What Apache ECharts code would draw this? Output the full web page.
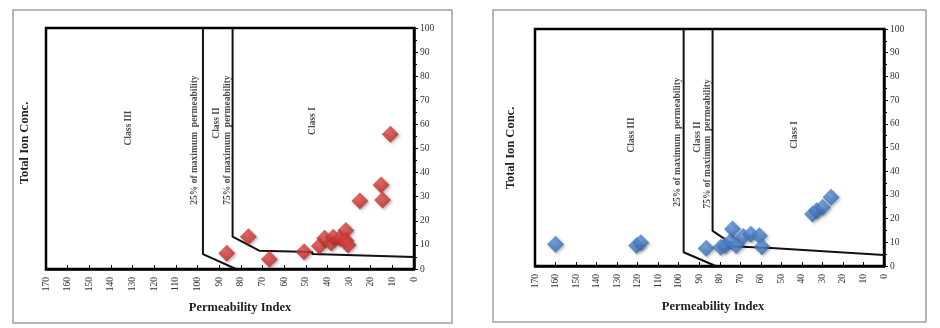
<!DOCTYPE html>
<html>
<head>
<meta charset="utf-8">
<script src="https://cdn.jsdelivr.net/npm/echarts@6/dist/echarts.min.js"></script>
<style>
    html, body { margin: 0; padding: 0; background: #fff; }
    #main { width: 940px; height: 328px; }
</style>
</head>
<body>
<div id="main"></div>
<script>
// permeability index (x) / total ion conc. (y)
var pointsA = [[86.5, 6.5], [76.5, 13.4], [66.8, 4.0], [50.8, 7.2], [43.7, 9.5], [41.3, 12.8], [38.2, 10.8],
    [37.3, 13.2], [34.2, 12.8], [31.5, 16.0], [31.5, 11.8], [30.5, 10.0], [25.0, 28.2], [15.2, 34.9],
    [14.5, 28.6], [10.9, 55.9]];
var pointsB = [[160, 9.2], [120.5, 8.6], [118.5, 9.8], [86.6, 7.5], [79.5, 7.9], [77.4, 8.6], [74.6, 10.5],
    [73.8, 15.6], [72.0, 8.6], [68.5, 12.4], [64.9, 13.4], [60.7, 12.8], [59.5, 8.1], [34.8, 21.9],
    [32.8, 23.3], [29.9, 24.8], [25.8, 29.0]];

// class boundaries
var line25A = [[97.5, 100], [97.5, 6.2], [82.2, 0]];
var line75A = [[83.8, 100], [83.8, 13.4], [71.5, 7.6], [47, 7.1], [47, 6.2], [0, 5.0]];
var line25B = [[97.6, 100], [97.6, 5.8], [82, 0]];
var line75B = [[83.5, 100], [83.5, 14.8], [72, 8.2], [55, 7.6], [0, 4.6]];

// text labels inside the plots
var labelsA = [[132, 58.5, 'Class III'], [91, 60.6, 'Class II'], [46.7, 61.4, 'Class I'],
    [101.2, 53.5, '25% of maximum  permeability'], [86, 53.5, '75% of maximum  permeability']];
var labelsB = [[123.2, 55.3, 'Class III'], [90.7, 54.4, 'Class II'], [43.8, 55.3, 'Class I'],
    [100.7, 52.3, '25% of maximum  permeability'], [85.9, 51.5, '75% of maximum  permeability']];

var xMin = 0, xMax = 170, xStep = 10;
var yMin = 0, yMax = 100, yStep = 10;

var serif = '"Liberation Serif", "DejaVu Serif", serif';

function makeX(gi) {
    return {
        type: 'value', gridIndex: gi, inverse: true,
        min: xMin, max: xMax, interval: xStep,
        splitLine: { show: false },
        axisLine: { lineStyle: { color: '#000', width: 2.5 } },
        axisTick: { inside: true, length: 4, lineStyle: { color: '#000' } },
        axisLabel: { rotate: 90, margin: 8, fontSize: 9.5, color: '#333', fontFamily: serif }
    };
}
function makeY(gi) {
    return {
        type: 'value', gridIndex: gi, position: 'right',
        min: yMin, max: yMax, interval: yStep,
        splitLine: { show: false },
        axisLine: { onZero: false, lineStyle: { color: '#000', width: 2.5 } },
        axisTick: { length: 4, lineStyle: { color: '#000' } },
        minorTick: { show: true, splitNumber: 2, length: 3, lineStyle: { color: '#000' } },
        axisLabel: { margin: 6, fontSize: 9.5, color: '#333', fontFamily: serif }
    };
}
function boundary(gi, data) {
    return {
        type: 'line', xAxisIndex: gi, yAxisIndex: gi, data: data,
        symbol: 'none', silent: true, z: 3,
        lineStyle: { color: '#111', width: 2 }
    };
}
function texts(gi, data) {
    return {
        type: 'scatter', xAxisIndex: gi, yAxisIndex: gi, symbolSize: 0, silent: true,
        data: data.map(function (d) { return { value: [d[0], d[1]], name: d[2] }; }),
        label: {
            show: true, position: 'inside', rotate: 90, formatter: '{b}',
            fontFamily: serif, fontSize: 9.5, fontWeight: 'bold', color: '#222'
        }
    };
}
function diamonds(gi, data, c1, c2) {
    return {
        type: 'scatter', xAxisIndex: gi, yAxisIndex: gi, data: data,
        symbol: 'diamond', symbolSize: 17, z: 5,
        itemStyle: {
            color: new echarts.graphic.RadialGradient(0.45, 0.4, 0.7, [
                { offset: 0, color: c1 }, { offset: 1, color: c2 }
            ]),
            shadowBlur: 3, shadowOffsetX: 1.5, shadowOffsetY: 1.5, shadowColor: 'rgba(0,0,0,0.35)'
        }
    };
}

var chart = echarts.init(document.getElementById('main'));
chart.setOption({
    animation: false,
    grid: [
        { left: 46, right: 526, top: 28, bottom: 59, show: true, borderColor: '#000', borderWidth: 2.5 },
        { left: 535, right: 56, top: 29, bottom: 62, show: true, borderColor: '#000', borderWidth: 2.5 }
    ],
    xAxis: [makeX(0), makeX(1)],
    yAxis: [makeY(0), makeY(1)],
    graphic: [
        { type: 'rect', shape: { x: 13, y: 10, width: 439, height: 313 }, style: { fill: 'none', stroke: '#a0a0a0', lineWidth: 1.5 }, z: -1 },
        { type: 'rect', shape: { x: 493, y: 10, width: 433, height: 312 }, style: { fill: 'none', stroke: '#a0a0a0', lineWidth: 1.5 }, z: -1 },
        { type: 'text', x: 240, y: 308, style: { text: 'Permeability Index', font: 'bold 12.5px ' + serif, fill: '#222', align: 'center', verticalAlign: 'middle' } },
        { type: 'text', x: 713, y: 307, style: { text: 'Permeability Index', font: 'bold 12.5px ' + serif, fill: '#222', align: 'center', verticalAlign: 'middle' } },
        { type: 'text', x: 25, y: 143, rotation: Math.PI / 2, style: { text: 'Total Ion Conc.', font: 'bold 12.5px ' + serif, fill: '#222', align: 'center', verticalAlign: 'middle' } },
        { type: 'text', x: 511, y: 148, rotation: Math.PI / 2, style: { text: 'Total Ion Conc.', font: 'bold 12.5px ' + serif, fill: '#222', align: 'center', verticalAlign: 'middle' } }
    ],
    series: [
        boundary(0, line25A), boundary(0, line75A),
        boundary(1, line25B), boundary(1, line75B),
        texts(0, labelsA), texts(1, labelsB),
        diamonds(0, pointsA, '#e44c4a', '#b01e1c'),
        diamonds(1, pointsB, '#5f93da', '#2a5ea6')
    ]
});
</script>
</body>
</html>
